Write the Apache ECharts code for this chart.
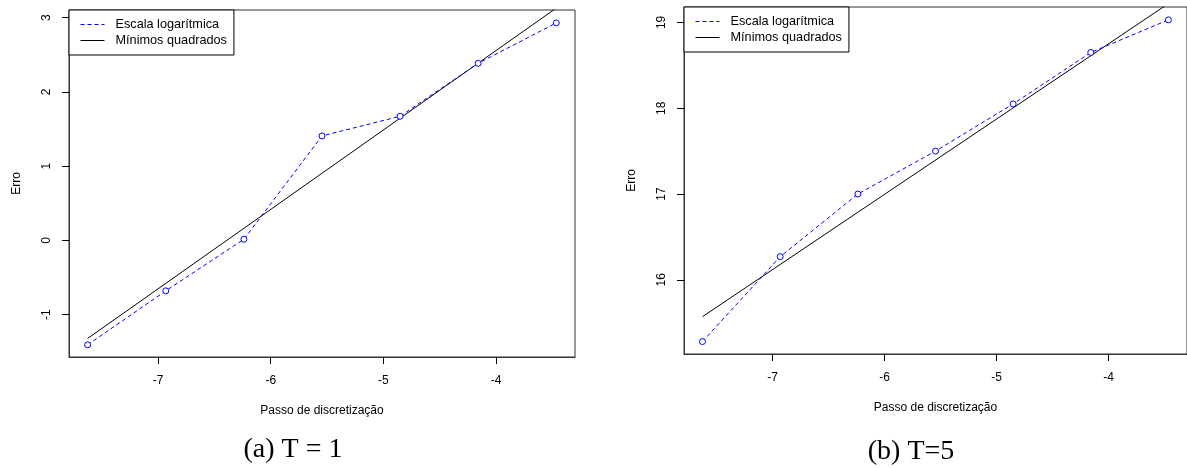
<!DOCTYPE html>
<html>
<head>
<meta charset="utf-8">
<script src="https://cdn.jsdelivr.net/npm/echarts@6/dist/echarts.min.js"></script>
<style>
  html, body { margin: 0; padding: 0; background: #fff; }
  #chart { width: 1187px; height: 468px; }
</style>
</head>
<body>
<div id="chart"></div>
<script>
// passo de discretização (escala log) e erro para T = 1 e T = 5
var logStep = [-7.625, -6.931, -6.238, -5.545, -4.852, -4.159, -3.466];
var erroT1 = [-1.405, -0.678, 0.017, 1.408, 1.673, 2.386, 2.93];
var erroT5 = [15.28, 16.27, 17.0, 17.5, 18.05, 18.65, 19.03];
// reta de mínimos quadrados: valores nas extremidades de logStep
var fitT1 = [-1.32, 3.13];
var fitT5 = [15.57, 19.22];

// rótulos dos eixos
var xTicks = [-7, -6, -5, -4];
var yTicksT1 = [-1, 0, 1, 2, 3];
var yTicksT5 = [16, 17, 18, 19];

var nomeLog = 'Escala logarítmica';
var nomeMQ = 'Mínimos quadrados';

window.onload = function() {
  var myChart = echarts.init(document.getElementById('chart'));

  var sans = '"Liberation Sans", Arial, sans-serif';
  var azul = '#0000ff';
  var tracejado = [4, 3];

  function pares(xs, ys) {
    var out = [];
    for (var i = 0; i < xs.length; i++) out.push([xs[i], ys[i]]);
    return out;
  }

  function xAxis(idx) {
    return {
      type: 'value', gridIndex: idx, min: -7.79, max: -3.30,
      name: 'Passo de discretização', nameLocation: 'middle', nameGap: 48,
      nameTextStyle: { fontFamily: sans, fontSize: 12, color: '#000' },
      axisLine: { show: true, onZero: false, lineStyle: { color: '#333', width: 1 } },
      axisTick: { show: true, inside: false, length: 7, customValues: xTicks, lineStyle: { color: '#000' } },
      axisLabel: { customValues: xTicks, margin: 18, fontFamily: sans, fontSize: 12, color: '#000' },
      splitLine: { show: false }
    };
  }

  function yAxis(idx, min, max, ticks) {
    return {
      type: 'value', gridIndex: idx, min: min, max: max,
      name: 'Erro', nameLocation: 'middle', nameGap: 46, nameRotate: 90,
      nameTextStyle: { fontFamily: sans, fontSize: 12, color: '#000' },
      axisLine: { show: true, onZero: false, lineStyle: { color: '#333', width: 1 } },
      axisTick: { show: true, inside: false, length: 7, customValues: ticks, lineStyle: { color: '#000' } },
      axisLabel: { customValues: ticks, rotate: 90, margin: 16, fontFamily: sans, fontSize: 12, color: '#000' },
      splitLine: { show: false }
    };
  }

  function legenda(left, top) {
    return {
      left: left, top: top, orient: 'vertical',
      data: [
        { name: nomeLog, lineStyle: { color: azul, width: 1, type: tracejado } },
        { name: nomeMQ, lineStyle: { color: '#000', width: 1, type: 'solid' } }
      ],
      selectedMode: false,
      itemWidth: 24, itemHeight: 10, itemGap: 3,
      padding: [8, 7, 8, 11],
      borderColor: '#000', borderWidth: 1, borderRadius: 0,
      backgroundColor: '#fff',
      itemStyle: { opacity: 0 },
      textStyle: { fontFamily: sans, fontSize: 12.7, color: '#000', padding: [0, 0, 0, 6] }
    };
  }

  function serieLog(idx, ys) {
    return {
      type: 'line', name: nomeLog, xAxisIndex: idx, yAxisIndex: idx,
      data: pares(logStep, ys),
      symbol: 'circle', symbolSize: 6,
      lineStyle: { color: azul, width: 1, type: tracejado },
      itemStyle: { color: '#fff', borderColor: azul, borderWidth: 1 },
      z: 3
    };
  }

  function serieMQ(idx, ends) {
    return {
      type: 'line', name: nomeMQ, xAxisIndex: idx, yAxisIndex: idx,
      data: [[logStep[0], ends[0]], [logStep[logStep.length - 1], ends[1]]],
      symbol: 'none', clip: true,
      lineStyle: { color: '#000', width: 1 },
      itemStyle: { color: '#000' },
      z: 2
    };
  }

  var option = {
    animation: false,
    grid: [
      { left: 69, top: 10, width: 506, height: 347, show: true, borderColor: '#333', borderWidth: 1, backgroundColor: 'transparent' },
      { left: 684, top: 7, width: 506, height: 347, show: true, borderColor: '#333', borderWidth: 1, backgroundColor: 'transparent' }
    ],
    xAxis: [xAxis(0), xAxis(1)],
    yAxis: [yAxis(0, -1.569, 3.104, yTicksT1), yAxis(1, 15.135, 19.18, yTicksT5)],
    legend: [legenda(69, 10), legenda(684, 7)],
    series: [
      serieLog(0, erroT1), serieMQ(0, fitT1),
      serieLog(1, erroT5), serieMQ(1, fitT5)
    ],
    graphic: [
      { type: 'text', x: 293, y: 450, style: { text: '(a) T = 1', font: '28px "Liberation Serif", serif', fill: '#000', align: 'center', verticalAlign: 'middle' } },
      { type: 'text', x: 911, y: 452, style: { text: '(b) T=5', font: '28px "Liberation Serif", serif', fill: '#000', align: 'center', verticalAlign: 'middle' } }
    ]
  };

  myChart.setOption(option);
};
</script>
</body>
</html>
